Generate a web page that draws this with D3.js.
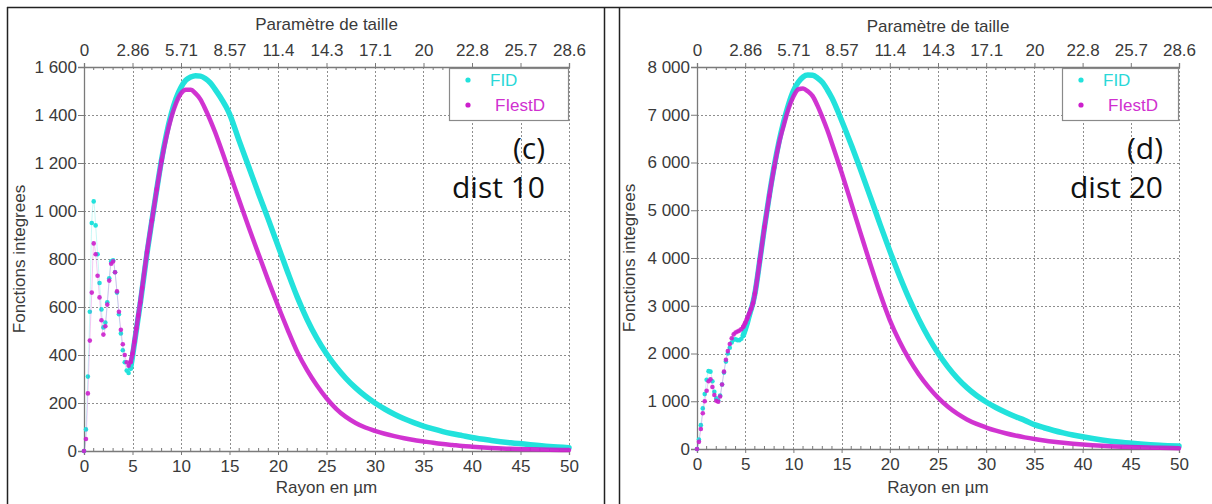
<!DOCTYPE html>
<html><head><meta charset="utf-8">
<script src="https://cdn.jsdelivr.net/npm/d3@7"></script>
<style>body{margin:0;background:#fff}svg{display:block}</style>
</head><body><svg id="chart" width="1212" height="504"></svg>
<script>
// ---- data ----
const rayon = [0,0.2,0.4,0.6,0.8,1.0,1.2,1.4,1.6,1.8,2.0,2.2,2.4,2.6,2.8,3.0,3.2,3.4,3.6,3.8,4.0,4.2,4.4,4.6,4.8,5.0,5.2,5.4,5.6,5.8,6.0,
  6.5,7,7.5,8,8.5,9,9.5,10,10.5,11,11.5,12,12.5,13,13.5,14,
  15,16,17,18,19,20,21,22,23,24,25,26,27,28,29,30,31,32,33,34,35,36,37,38,39,40,
  42,44,46,48,50];
// panel (c) dist 10
const fidC = [0,90,310,580,950,1040,940,820,700,590,515,535,620,720,790,795,745,660,570,490,420,370,335,325,345,395,450,505,560,615,675,
  825,960,1090,1215,1320,1405,1470,1515,1545,1558,1564,1562,1552,1535,1508,1478,
  1405,1292,1182,1072,965,855,745,640,548,470,405,350,303,263,229,200,175,153,134,118,104,92,81,72,64,56,
  44,34,26,19,14];
const fiestdC = [0,50,240,460,660,865,820,730,640,545,485,520,610,710,780,790,745,665,580,505,445,400,370,355,370,405,455,510,565,620,680,
  830,960,1090,1210,1310,1390,1450,1490,1505,1505,1490,1465,1425,1380,1330,1275,
  1160,1045,930,820,710,605,505,412,337,274,220,176,142,117,98,84,72,62,53,46,40,34,29,25,21,18,
  13,9,7,5,4];
// panel (d) dist 20
const fidD = [0,200,500,850,1150,1450,1630,1620,1420,1200,1060,1020,1120,1350,1600,1830,2000,2120,2230,2290,2300,2280,2280,2310,2380,2500,2630,2780,2920,3060,3250,
  3930,4650,5310,5910,6430,6860,7220,7500,7680,7790,7830,7825,7770,7680,7530,7350,
  6880,6370,5830,5270,4700,4150,3630,3150,2720,2340,2010,1725,1485,1285,1120,985,870,770,680,600,510,445,388,338,293,255,
  190,142,107,80,62];
const fiestdD = [0,150,420,750,1000,1220,1420,1460,1300,1130,1010,990,1100,1350,1620,1870,2050,2200,2320,2400,2440,2460,2480,2510,2560,2640,2730,2830,2930,3050,3250,
  3930,4650,5300,5890,6400,6780,7130,7380,7530,7550,7490,7390,7190,6950,6690,6400,
  5790,5150,4500,3860,3250,2700,2255,1880,1565,1300,1075,890,740,620,525,450,385,330,283,243,208,178,152,130,111,95,
  68,49,35,25,18];

const xTicks = [0,5,10,15,20,25,30,35,40,45,50];
const paramLabels = ["0","2.86","5.71","8.57","11.4","14.3","17.1","20","22.8","25.7","28.6"];
const yTicksC = [0,200,400,600,800,1000,1200,1400,1600];
const yTicksD = [0,1000,2000,3000,4000,5000,6000,7000,8000];
const seriesNames = ["FID","FIestD"];
const panelTags = ["(c)","(d)"];
const distTags = ["dist 10","dist 20"];
const xTitle = "Rayon en µm";
const topTitle = "Paramètre de taille";
const yTitle = "Fonctions integrees";

// ---- styles ----
const CYAN = "#22e2dc", MAG = "#cc1fcc";
const TXT = "#3a3a3a", AX = "#7a7a7a", GRID = "#8e8e8e";
const FONT = "'Liberation Sans', Arial, sans-serif";
const loc = d3.formatLocale({decimal: ",", thousands: " ", grouping: [3], currency: ["", ""]});
const fmt = loc.format(",d");

const svg = d3.select("#chart");

// table frame
svg.append("line").attr("x1",7).attr("x2",1212).attr("y1",7.5).attr("y2",7.5).attr("stroke","#222").attr("stroke-width",1.5);
[7.5,604.5,619.5].forEach(x=>svg.append("line").attr("x1",x).attr("x2",x).attr("y1",7).attr("y2",504).attr("stroke","#222").attr("stroke-width",1.5));

const panels = [
  {l:84, r:569, t:67, b:451, ymax:1600, yTicks:yTicksC, fid:fidC, est:fiestdC, tag:panelTags[0], dist:distTags[0], tagX:545, ylabX:19, titleY:30, legW:120},
  {l:697, r:1179, t:67, b:449, ymax:8000, yTicks:yTicksD, fid:fidD, est:fiestdD, tag:panelTags[1], dist:distTags[1], tagX:1163, ylabX:629, titleY:32, legW:117}
];

panels.forEach(p => {
  const g = svg.append("g");
  const x = d3.scaleLinear().domain([0,50]).range([p.l,p.r]);
  const y = d3.scaleLinear().domain([0,p.ymax]).range([p.b,p.t]);

  // grid
  const grid = g.append("g").attr("stroke",GRID).attr("stroke-width",1).attr("stroke-dasharray","2,2");
  xTicks.filter(v=>v>0).forEach(v=>grid.append("line").attr("x1",Math.round(x(v))+0.5).attr("x2",Math.round(x(v))+0.5).attr("y1",p.t).attr("y2",p.b));
  p.yTicks.filter(v=>v>0 && v<p.ymax).forEach(v=>grid.append("line").attr("x1",p.l).attr("x2",p.r).attr("y1",Math.round(y(v))+0.5).attr("y2",Math.round(y(v))+0.5));

  // axes
  const minor = d3.range(0,51,1).filter(v=>v%5!==0);
  const bottom = g.append("g").attr("transform",`translate(0,${p.b})`)
    .call(d3.axisBottom(x).tickValues(xTicks).tickSize(4).tickPadding(5).tickFormat(d3.format("d")));
  const bMinor = g.append("g").attr("transform",`translate(0,${p.b})`);
  minor.forEach(v=>bMinor.append("line").attr("x1",x(v)).attr("x2",x(v)).attr("y1",0).attr("y2",-3).attr("stroke",AX));
  const top = g.append("g").attr("transform",`translate(0,${p.t})`)
    .call(d3.axisTop(x).tickValues(xTicks).tickSize(4).tickPadding(7).tickFormat((d,i)=>paramLabels[i]));
  const tMinor = g.append("g").attr("transform",`translate(0,${p.t})`);
  minor.forEach(v=>tMinor.append("line").attr("x1",x(v)).attr("x2",x(v)).attr("y1",0).attr("y2",3).attr("stroke",AX));
  const left = g.append("g").attr("transform",`translate(${p.l},0)`)
    .call(d3.axisLeft(y).tickValues(p.yTicks).tickSize(6).tickPadding(1).tickFormat(fmt));
  [bottom,top,left].forEach(a=>{
    a.select(".domain").attr("stroke",AX).attr("stroke-width",1.3);
    a.selectAll(".tick line").attr("stroke",AX);
    a.selectAll(".tick text").attr("fill",TXT).attr("font-family",FONT).attr("font-size",17);
  });

  // titles
  g.append("text").attr("x",(p.l+p.r)/2).attr("y",p.titleY).attr("text-anchor","middle")
    .attr("font-family",FONT).attr("font-size",17).attr("fill",TXT).text(topTitle);
  g.append("text").attr("x",(p.l+p.r)/2).attr("y",493).attr("text-anchor","middle")
    .attr("font-family",FONT).attr("font-size",17).attr("fill",TXT).text(xTitle);
  g.append("text").attr("transform",`translate(${p.ylabX+6},${(p.t+p.b)/2}) rotate(-90)`).attr("text-anchor","middle")
    .attr("font-family",FONT).attr("font-size",17).attr("fill",TXT).text(yTitle);

  // series
  const series = [{vals:p.fid,color:CYAN,w:5.5,op:1},{vals:p.est,color:MAG,w:4.5,op:0.9}];
  series.forEach(s=>{
    const pts = rayon.map((r,i)=>[r,s.vals[i]]);
    const line = d3.line().x(d=>x(d[0])).y(d=>y(d[1])).curve(d3.curveMonotoneX);
    g.append("path").attr("d",line(pts)).attr("fill","none").attr("stroke",s.color).attr("stroke-width",1).attr("opacity",0.25);
    g.append("path").attr("d",line(pts.filter(d=>d[0]>=4.8))).attr("fill","none").attr("stroke",s.color)
      .attr("stroke-width",s.w).attr("stroke-linecap","round").attr("opacity",s.op);
    g.append("g").selectAll("circle").data(pts.filter(d=>d[0]<=8)).join("circle")
      .attr("cx",d=>x(d[0])).attr("cy",d=>y(d[1])).attr("r",2.3).attr("fill",s.color).attr("opacity",s.op);
  });

  // legend
  const lx = p.r - p.legW, ly = p.t + 1;
  g.append("rect").attr("x",lx+0.5).attr("y",ly+0.5).attr("width",p.legW-1).attr("height",52)
    .attr("fill","#fff").attr("stroke","#8a8a8a").attr("stroke-width",1.2);
  [[CYAN,"#2ad8d8",seriesNames[0],12,41],[MAG,"#d030d0",seriesNames[1],37,46]].forEach(([c,tc,name,dy,tx])=>{
    g.append("circle").attr("cx",lx+19).attr("cy",ly+dy).attr("r",2.6).attr("fill",c);
    g.append("text").attr("x",lx+tx).attr("y",ly+dy+6).attr("font-family",FONT).attr("font-size",17)
      .attr("fill",tc).text(name);
  });

  // annotations
  g.append("text").attr("x",p.tagX).attr("y",159).attr("text-anchor","end")
    .attr("font-family","'Open Sans', sans-serif").attr("font-size",30).attr("fill","#111").text(p.tag);
  g.append("text").attr("x",p.tagX).attr("y",198).attr("text-anchor","end")
    .attr("font-family","'Open Sans', sans-serif").attr("font-size",30).attr("fill","#111").text(p.dist);
});
</script></body></html>
